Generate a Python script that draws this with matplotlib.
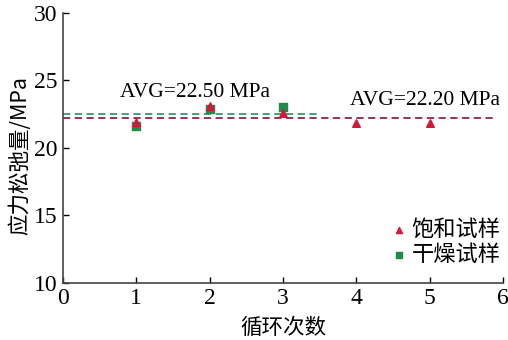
import matplotlib
matplotlib.use("Agg")
import matplotlib.pyplot as plt

plt.rcParams['font.family'] = ['Liberation Serif', 'Noto Sans CJK SC']

cycles_sat = [1, 2, 3, 4, 5]
relax_sat = [21.9, 23.1, 22.6, 21.85, 21.85]
cycles_dry = [1, 2, 3]
relax_dry = [21.65, 22.85, 23.05]
avg_sat = 22.20
avg_dry = 22.50

cjk = ['Noto Sans CJK SC', 'DejaVu Sans']

fig = plt.figure(figsize=(5.08, 3.40), dpi=100)
ax = fig.add_axes([0.124, 0.168, 0.866, 0.794])

ax.plot([0, 5.92], [avg_sat, avg_sat], ls=(0, (4, 2.5)), color='#8c2447', lw=1.3, zorder=1)
ax.plot([0, 3.5], [avg_dry, avg_dry], ls=(0, (4, 2.5)), color='#27a36b', lw=1.3, zorder=1)

ax.scatter(cycles_dry, relax_dry, marker='s', s=28, color='#1f8a4c', zorder=3, label='干燥试样')
ax.scatter(cycles_sat, relax_sat, marker='^', s=30, color='#d4183a', zorder=4, label='饱和试样')

ax.text(0.78, 23.75, 'AVG=22.50 MPa', fontsize=15.5, ha='left', va='baseline')
ax.text(3.91, 23.17, 'AVG=22.20 MPa', fontsize=15.5, ha='left', va='baseline')

ax.set_xlim(0, 6)
ax.set_ylim(10, 30)
ax.set_xticks(range(0, 7))
ax.set_yticks([10, 15, 20, 25, 30])
ax.tick_params(direction='in', labelsize=17, length=4, width=1, pad=4)
for sp in ['top', 'right']:
    ax.spines[sp].set_visible(False)
for sp in ['left', 'bottom']:
    ax.spines[sp].set_color('#444444')
    ax.spines[sp].set_linewidth(1.2)

ax.set_xlabel('循环次数', family=cjk, fontsize=15.5, labelpad=5)
ax.set_ylabel('应力松弛量/MPa', family=cjk, fontsize=15.5)
ax.yaxis.set_label_coords(-0.072, 0.47)

h, l = ax.get_legend_handles_labels()
ax.legend(h[::-1], l[::-1], loc='lower right', bbox_to_anchor=(1.04, -0.01), frameon=False,
          prop={'family': cjk, 'size': 16}, handletextpad=0.05, markerscale=0.8,
          labelspacing=0.1, handlelength=1.0)

fig.savefig('out.png', dpi=100)
